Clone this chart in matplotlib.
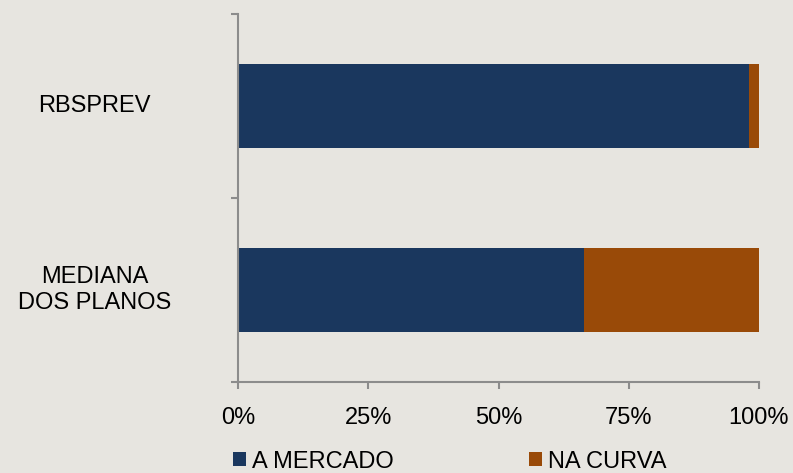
import matplotlib
matplotlib.use('Agg')
import matplotlib.pyplot as plt
import numpy as np

plt.rcParams['font.family'] = ['Liberation Sans', 'DejaVu Sans']

categories = ['RBSPREV', 'MEDIANA\nDOS PLANOS']
a_mercado = [98.0, 66.5]
na_curva = [2.0, 33.5]
ticks = [0, 25, 50, 75, 100]
tick_labels = ['0%', '25%', '50%', '75%', '100%']

NAVY = '#1a375e'
ORANGE = '#994a08'
BG = '#e7e5e0'
AXC = '#8c8c8c'

fig = plt.figure(figsize=(7.93, 4.73), dpi=100, facecolor=BG)
ax = fig.add_axes([238 / 793, 1 - 382 / 473, (759 - 238) / 793, (382 - 14) / 473])
ax.set_facecolor(BG)

y = np.arange(len(categories))[::-1].astype(float)  # RBSPREV on top
h = 0.46
b1 = ax.barh(y, a_mercado, height=h, color=NAVY, label='A MERCADO')
b2 = ax.barh(y, na_curva, left=a_mercado, height=h, color=ORANGE, label='NA CURVA')

ax.set_xlim(0, 100)
ax.set_ylim(-0.5, 1.5)
ax.set_xticks(ticks)
ax.set_xticklabels(tick_labels, fontsize=17)
ax.set_yticks([-0.5, 0.5, 1.5])
ax.set_yticklabels([])
ax.tick_params(axis='x', length=5, width=1.5, color=AXC, pad=13)
ax.tick_params(axis='y', length=5, width=1.5, color=AXC)
for s in ['top', 'right']:
    ax.spines[s].set_visible(False)
for s in ['left', 'bottom']:
    ax.spines[s].set_color(AXC)
    ax.spines[s].set_linewidth(1.5)

# category labels
for yi, lab in zip(y, categories):
    yfig = ax.transData.transform((0, yi))[1] / fig.dpi / 4.73
    fig.text(94.5 / 793, yfig, lab, ha='center', va='center', fontsize=17,
             linespacing=1.2, color='black')

fig.legend(handles=[b1, b2], loc='lower left', bbox_to_anchor=(224 / 793, -9 / 473),
           ncol=2, frameon=False, fontsize=17, handlelength=0.55, handleheight=0.55,
           handletextpad=0.25, columnspacing=5.7, borderaxespad=0)

fig.savefig('out.png', dpi=100, facecolor=BG)
